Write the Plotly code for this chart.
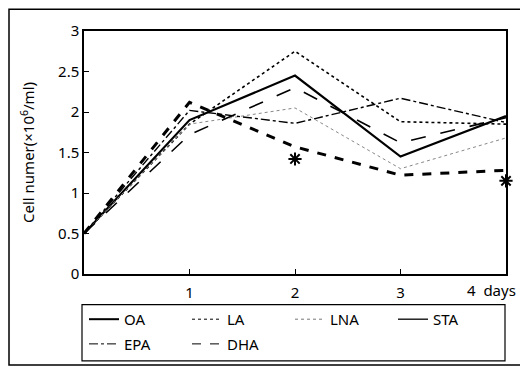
import plotly.graph_objects as go

days = [0, 1, 2, 3, 4]
oa = [0.5, 1.9, 2.45, 1.45, 1.95]
la = [0.5, 1.85, 2.75, 1.88, 1.85]
lna = [0.5, 1.85, 2.05, 1.3, 1.68]
sta = [0.5, 1.72, 2.3, 1.62, 1.93]
epa = [0.5, 2.02, 1.86, 2.17, 1.87]
dha = [0.5, 2.12, 1.57, 1.22, 1.28]
star_x = [2, 4]
star_y = [1.42, 1.15]

legend_names = ["OA", "LA", "LNA", "STA", "EPA", "DHA"]
x_tick_vals = [1, 2, 3, 4]
x_tick_text = ["1", "2", "3", ""]
x_last_label = "4\u00a0\u00a0days"
y_tick_vals = [0, 0.5, 1, 1.5, 2, 2.5, 3]
y_tick_text = ["0", "0.5", "1", "1.5", "2", "2.5", "3"]

FONT = "Noto Sans"
OFF = 8  # page body margin
W, H = 528 - OFF, 373 - OFF
ML = 84 - OFF
MR = W - (506 - OFF)
MT = 31 - OFF
MB = H - (277 - OFF)

fig = go.Figure()

styles = [
    (oa, dict(color="black", width=2.2, dash="solid")),
    (la, dict(color="black", width=1.6, dash="dot")),
    (lna, dict(color="#888888", width=1.0, dash="dot")),
    (sta, dict(color="black", width=1.6, dash="longdash")),
    (epa, dict(color="black", width=1.4, dash="dashdot")),
    (dha, dict(color="black", width=3.0, dash="dash")),
]
for vals, ln in styles:
    fig.add_trace(go.Scatter(x=days, y=vals, mode="lines", line=ln,
                             showlegend=False, hoverinfo="skip"))

fig.add_trace(go.Scatter(x=star_x, y=star_y, mode="markers", showlegend=False,
                         hoverinfo="skip", cliponaxis=False,
                         marker=dict(symbol="asterisk-open", size=11, color="black",
                                     line=dict(color="black", width=2))))

legend_styles = [
    dict(color="black", width=2, dash="solid"),
    dict(color="black", width=1, dash="dot"),
    dict(color="#777777", width=1, dash="dot"),
    dict(color="black", width=1.3, dash="solid"),
    dict(color="black", width=1, dash="dashdot"),
    dict(color="black", width=1, dash="dash"),
]
for i, (name, ln) in enumerate(zip(legend_names, legend_styles)):
    fig.add_trace(go.Scatter(x=[None], y=[None], mode="lines", name=name, line=ln,
                             legend="legend" if i < 4 else "legend2"))

pw = W - ML - MR
ph = H - MT - MB


def px_x(page_x):
    return (page_x - OFF - ML) / pw


def px_y(page_y):
    return (H - MB - (page_y - OFF)) / ph


# outer frame
fig.add_shape(type="rect", xref="paper", yref="paper",
              x0=px_x(9), x1=px_x(524), y0=px_y(369), y1=px_y(9),
              line=dict(color="black", width=1.5))
# legend box
fig.add_shape(type="rect", xref="paper", yref="paper",
              x0=px_x(82), x1=px_x(505), y0=px_y(365), y1=px_y(308),
              line=dict(color="black", width=1.2))

fig.add_annotation(x=4, xref="x", y=0, yref="paper", text=x_last_label,
                   showarrow=False, xanchor="right", yanchor="middle",
                   xshift=12, yshift=-16,
                   font=dict(family=FONT, size=15, color="black"))

leg_common = dict(orientation="h", xanchor="left", yanchor="middle",
                  bgcolor="rgba(0,0,0,0)", borderwidth=0,
                  entrywidth=58, tracegroupgap=0,
                  font=dict(family=FONT, size=15, color="black"))

fig.update_layout(
    width=W, height=H,
    margin=dict(l=ML, r=MR, t=MT, b=MB),
    paper_bgcolor="white", plot_bgcolor="white",
    font=dict(family=FONT, size=15, color="black"),
    showlegend=True,
    legend=dict(x=px_x(84), y=px_y(323), **leg_common),
    legend2=dict(x=px_x(84), y=px_y(348), **leg_common),
    xaxis=dict(range=[0, 4], tickvals=x_tick_vals, ticktext=x_tick_text,
               ticks="inside", ticklen=5, tickcolor="black",
               automargin=False, ticklabelstandoff=4,
               tickfont=dict(family=FONT, size=15, color="black"),
               showline=True, linecolor="black", linewidth=1.5, mirror=True,
               showgrid=False, zeroline=False, fixedrange=True),
    yaxis=dict(range=[0, 3], tickvals=y_tick_vals, ticktext=y_tick_text,
               ticks="inside", ticklen=5, tickcolor="black", automargin=False,
               tickfont=dict(family=FONT, size=15, color="black"),
               showline=True, linecolor="black", linewidth=1.5, mirror=True,
               showgrid=False, zeroline=False, fixedrange=True,
               title=dict(text="Cell numer(×10<sup>6</sup>/ml)", standoff=20,
                          font=dict(family=FONT, size=15, color="black"))),
)

fig.write_html("out.html")
